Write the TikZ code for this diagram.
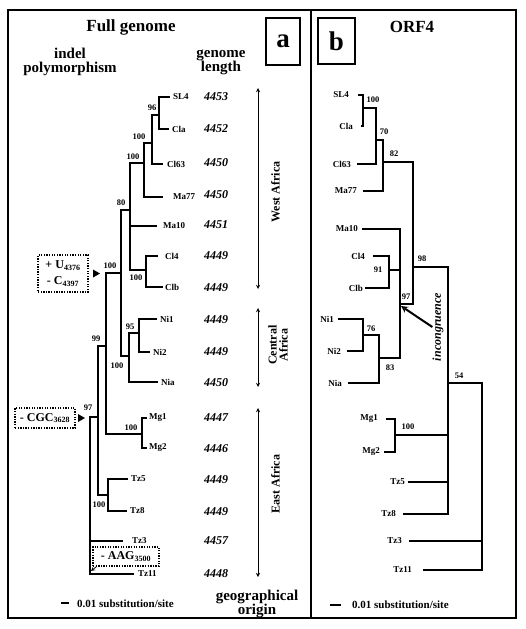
\documentclass[tikz,border=0pt]{standalone}
\usepackage{fontspec}
\setmainfont{Liberation Serif}
\usepackage{tikz}

\begin{document}
\begin{tikzpicture}[x=1pt, y=-1pt,
  branch/.style={line width=1.1pt},
  leaf/.style={font=\fontsize{9}{10}\selectfont\bfseries, inner sep=0pt},
  boot/.style={font=\fontsize{8.5}{9}\selectfont\bfseries, inner sep=0pt},
  len/.style={font=\fontsize{12}{12}\selectfont\bfseries\itshape, inner sep=0pt},
  title/.style={font=\fontsize{17}{17}\selectfont\bfseries, inner sep=0pt},
  head/.style={font=\fontsize{15}{14}\selectfont\bfseries, align=center, inner sep=0pt},
  region/.style={font=\fontsize{12}{11}\selectfont\bfseries, align=center, rotate=90, inner sep=0pt},
  panel/.style={draw, line width=1.2pt, font=\fontsize{27}{27}\selectfont\bfseries, inner sep=0pt},
  indel/.style={draw, line width=1.3pt, dash pattern=on 1.3pt off 1.3pt,
    font=\fontsize{12}{12}\selectfont\bfseries, align=center, inner sep=0pt},
  geo/.style={<->, >=stealth, line width=0.9pt}]
\useasboundingbox (0,0) rectangle (525,629);

% Frame and panels.
\draw[line width=1.6pt] (8,10) rectangle (516,618);
\draw[line width=1.6pt] (311,10) -- (311,618);
\node[panel, minimum width=34pt, minimum height=47pt] (pa) at (283,41.5) {a};
\node[panel, minimum width=37pt, minimum height=46pt] (pb) at (336.5,41) {b};
\node[title] (full) at (131,27) {Full genome};
\node[title] (orf) at (412,27) {ORF4};
\node[head] (indel) at (70,62) {indel\\polymorphism};
\node[head] (glen) at (221,62) {genome\\length};
\node[head] (origin) at (257,604) {geographical\\origin};

% Full genome tree: leaves.
\coordinate (tSL4) at (170,97);   \node[leaf, anchor=west] (SL4) at (173,97) {SL4};
\coordinate (tCla) at (169,129);  \node[leaf, anchor=west] (Cla) at (172,129) {Cla};
\coordinate (tCl63) at (163,164); \node[leaf, anchor=west] (Cl63) at (167,164) {Cl63};
\coordinate (tMa77) at (163,197); \node[leaf, anchor=west] (Ma77) at (173,197) {Ma77};
\coordinate (tMa10) at (157,226); \node[leaf, anchor=west] (Ma10) at (163,226) {Ma10};
\coordinate (tCl4) at (158,256);  \node[leaf, anchor=west] (Cl4) at (165,256) {Cl4};
\coordinate (tClb) at (163,287);  \node[leaf, anchor=west] (Clb) at (165,287) {Clb};
\coordinate (tNi1) at (157,319);  \node[leaf, anchor=west] (Ni1) at (160,319) {Ni1};
\coordinate (tNi2) at (150,352);  \node[leaf, anchor=west] (Ni2) at (153,352) {Ni2};
\coordinate (tNia) at (158,382);  \node[leaf, anchor=west] (Nia) at (161,382) {Nia};
\coordinate (tMg1) at (147,418);  \node[leaf, anchor=west] (Mg1) at (149,418) {Mg1};
\coordinate (tMg2) at (147,448);  \node[leaf, anchor=west] (Mg2) at (149,448) {Mg2};
\coordinate (tTz5) at (128,479);  \node[leaf, anchor=west] (Tz5) at (131,479) {Tz5};
\coordinate (tTz8) at (127,511);  \node[leaf, anchor=west] (Tz8) at (130,511) {Tz8};
\coordinate (tTz3) at (123,541);  \node[leaf, anchor=west] (Tz3) at (132,541) {Tz3};
\coordinate (tTz11) at (134,574); \node[leaf, anchor=west] (Tz11) at (138,574) {Tz11};

% Genome lengths.
\node[len] (gSL4) at (216,97) {4453};
\node[len] (gCla) at (216,129) {4452};
\node[len] (gCl63) at (216,163) {4450};
\node[len] (gMa77) at (216,195) {4450};
\node[len] (gMa10) at (216,225) {4451};
\node[len] (gCl4) at (216,256) {4449};
\node[len] (gClb) at (216,288) {4449};
\node[len] (gNi1) at (216,320) {4449};
\node[len] (gNi2) at (216,352) {4449};
\node[len] (gNia) at (216,383) {4450};
\node[len] (gMg1) at (216,418) {4447};
\node[len] (gMg2) at (216,449) {4446};
\node[len] (gTz5) at (216,480) {4449};
\node[len] (gTz8) at (216,512) {4449};
\node[len] (gTz3) at (216,541) {4457};
\node[len] (gTz11) at (216,574) {4448};

% Full genome tree: inner nodes.
\coordinate (n96) at (159,115);
\coordinate (nA) at (152,143);
\coordinate (nB) at (144,163);
\coordinate (n80) at (130,210);
\coordinate (nC) at (146,270);
\coordinate (nD) at (121,273);
\coordinate (n95) at (139,333);
\coordinate (nE) at (129,356);
\coordinate (n99) at (106,346);
\coordinate (nMg) at (142,434);
\coordinate (nTz) at (108,495);
\coordinate (n97) at (98,417);
\coordinate (root) at (90,417);

\draw[branch] (tSL4) -| (n96) |- (tCla);
\draw[branch] (n96) -| (nA) |- (tCl63);
\draw[branch] (nA) -| (nB) |- (tMa77);
\draw[branch] (tCl4) -| (nC) |- (tClb);
\draw[branch] (nB) -| (n80) |- (nC);
\draw[branch] (tMa10) -| (n80);
\draw[branch] (tNi1) -| (n95) |- (tNi2);
\draw[branch] (n95) -| (nE) |- (tNia);
\draw[branch] (n80) -| (nD) |- (nE);
\draw[branch] (tMg1) -| (nMg) |- (tMg2);
\draw[branch] (nD) -| (n99) |- (nMg);
\draw[branch] (tTz5) -| (nTz) |- (tTz8);
\draw[branch] (n99) -| (n97) |- (nTz);
\draw[branch] (n97) -- (root) |- (tTz11);
\draw[branch] (tTz3) -| (root);

% Bootstrap values.
\node[boot] (b96) at (152,108) {96};
\node[boot] (bA) at (139,137) {100};
\node[boot] (bB) at (133,157) {100};
\node[boot] (b80) at (121,203) {80};
\node[boot] (bC) at (136,278) {100};
\node[boot] (bD) at (110,266) {100};
\node[boot] (b95) at (130,327) {95};
\node[boot] (bE) at (117,366) {100};
\node[boot] (b99) at (96,339) {99};
\node[boot] (bMg) at (131,428) {100};
\node[boot] (b97) at (88,408) {97};
\node[boot] (bTz) at (99,505) {100};

% Indels.
\node[indel, minimum width=50pt, minimum height=37pt] (ins) at (63,273.5)
  {+ U\textsubscript{4376}\\[4pt]- C\textsubscript{4397}};
\node[indel, minimum width=60pt, minimum height=20pt] (cgc) at (45,418) {- CGC\textsubscript{3628}};
\node[indel, minimum width=66pt, minimum height=19pt] (aag) at (126,556.5) {- AAG\textsubscript{3500}};
\fill (100,273.5) -- (93,269.5) -- (93,277.5) -- cycle;
\fill (85,418) -- (78,414) -- (78,422) -- cycle;
\coordinate (aagtip) at (91,571);
\draw[->, >=stealth, line width=0.8pt] ([xshift=4pt]aag.south west) -- (aagtip);

% Geographical origin.
\coordinate (westN) at (258,88);  \coordinate (westS) at (258,289);
\coordinate (centN) at (258,308); \coordinate (centS) at (258,387);
\coordinate (eastN) at (258,408); \coordinate (eastS) at (258,577);
\draw[geo] (westN) -- (westS);
\draw[geo] (centN) -- (centS);
\draw[geo] (eastN) -- (eastS);
\node[region] (west) at (275.5,192) {West Africa};
\node[region] (cent) at (278,345) {Central\\Africa};
\node[region] (east) at (275.5,484) {East Africa};

% ORF4 tree: leaves.
\coordinate (uSL4) at (358,95);   \node[leaf, anchor=east] (SL4b) at (349,95) {SL4};
\coordinate (uCla) at (361,126);  \node[leaf, anchor=east] (Clab) at (353,126) {Cla};
\coordinate (uCl63) at (357,164); \node[leaf, anchor=east] (Cl63b) at (351,164) {Cl63};
\coordinate (uMa77) at (363,191); \node[leaf, anchor=east] (Ma77b) at (357,191) {Ma77};
\coordinate (uMa10) at (362,229); \node[leaf, anchor=east] (Ma10b) at (358,229) {Ma10};
\coordinate (uCl4) at (373,256);  \node[leaf, anchor=east] (Cl4b) at (365,256) {Cl4};
\coordinate (uClb) at (365,288);  \node[leaf, anchor=east] (Clbb) at (363,288) {Clb};
\coordinate (uNi1) at (338,319);  \node[leaf, anchor=east] (Ni1b) at (334,319) {Ni1};
\coordinate (uNi2) at (347,351);  \node[leaf, anchor=east] (Ni2b) at (341,351) {Ni2};
\coordinate (uNia) at (348,383);  \node[leaf, anchor=east] (Niab) at (342,383) {Nia};
\coordinate (uMg1) at (386,419);  \node[leaf, anchor=east] (Mg1b) at (378,419) {Mg1};
\coordinate (uMg2) at (384,452);  \node[leaf, anchor=east] (Mg2b) at (380,452) {Mg2};
\coordinate (uTz5) at (408,482);  \node[leaf, anchor=east] (Tz5b) at (405,482) {Tz5};
\coordinate (uTz8) at (403,514);  \node[leaf, anchor=east] (Tz8b) at (396,514) {Tz8};
\coordinate (uTz3) at (409,541);  \node[leaf, anchor=east] (Tz3b) at (402,541) {Tz3};
\coordinate (uTz11) at (423,570); \node[leaf, anchor=east] (Tz11b) at (412,570) {Tz11};

% ORF4 tree: inner nodes.
\coordinate (m100) at (363,108);
\coordinate (mA) at (376,140);
\coordinate (m70) at (383,162);
\coordinate (m91) at (389,270);
\coordinate (m76) at (363,335);
\coordinate (m83) at (379,358);
\coordinate (m97) at (400,304);
\coordinate (m82) at (413,267);
\coordinate (mMg) at (395,435);
\coordinate (m98) at (448,383);
\coordinate (mroot) at (482,383);

\draw[branch] (uSL4) -| (m100) |- (uCla);
\draw[branch] (m100) -| (mA) |- (uCl63);
\draw[branch] (mA) -| (m70) |- (uMa77);
\draw[branch] (uCl4) -| (m91) |- (uClb);
\draw[branch] (uNi1) -| (m76) |- (uNi2);
\draw[branch] (m76) -| (m83) |- (uNia);
\draw[branch] (uMa10) -| (m97) |- (m83);
\draw[branch] (m91) -| (m97);
\draw[branch] (m70) -| (m82) |- (m97);
\draw[branch] (uMg1) -| (mMg) |- (uMg2);
\draw[branch] (m82) -| (m98) |- (uTz8);
\draw[branch] (mMg) -| (m98);
\draw[branch] (uTz5) -| (m98);
\draw[branch] (m98) -- (mroot) |- (uTz11);
\draw[branch] (uTz3) -| (mroot);

% Bootstrap values.
\node[boot] (c100) at (373,100) {100};
\node[boot] (c70) at (384,132) {70};
\node[boot] (c82) at (394,154) {82};
\node[boot] (c98) at (422,259) {98};
\node[boot] (c91) at (378,270) {91};
\node[boot] (c97) at (406,297) {97};
\node[boot] (c76) at (371,329) {76};
\node[boot] (c83) at (390,368) {83};
\node[boot] (c54) at (459,376) {54};
\node[boot] (cMg) at (408,427) {100};

% Incongruence.
\node[region, font=\fontsize{12}{12}\selectfont\bfseries\itshape] (incong) at (438,327) {incongruence};
\coordinate (clash) at (401,306);
\draw[->, >=stealth, line width=2pt] (incong.north) -- (clash);

% Scale bars.
\draw[line width=1.2pt] (61,603) -- (69,603);
\node[leaf, anchor=west, font=\fontsize{11}{11}\selectfont\bfseries] (scaleA) at (77,604) {0.01 substitution/site};
\draw[line width=1.2pt] (330,605) -- (341,605);
\node[leaf, anchor=west, font=\fontsize{11}{11}\selectfont\bfseries] (scaleB) at (352,605) {0.01 substitution/site};

\end{tikzpicture}
\end{document}
